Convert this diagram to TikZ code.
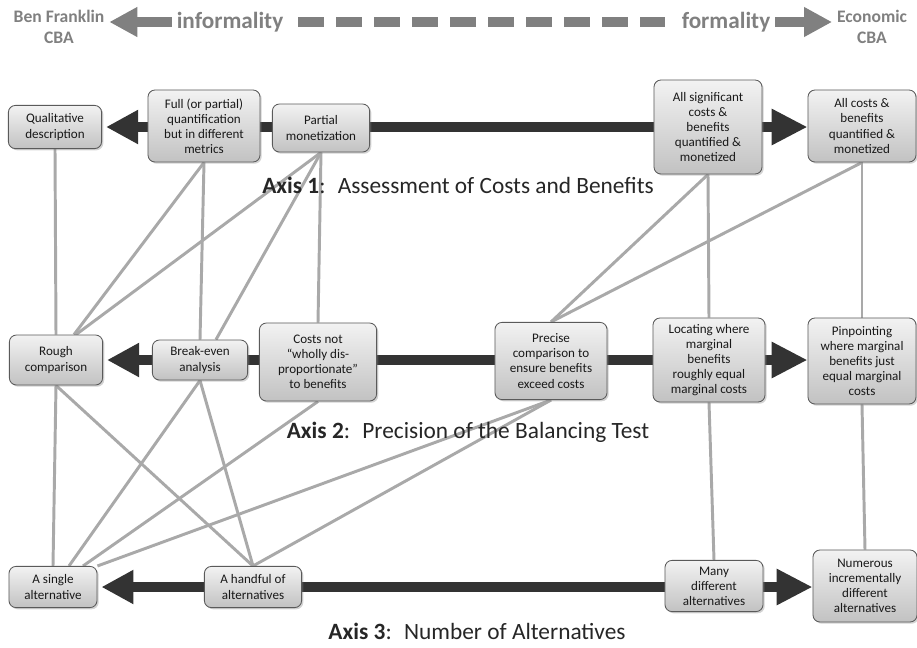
\documentclass[tikz,border=0pt]{standalone}
\usepackage{fontspec}
\setmainfont{Carlito}
\usetikzlibrary{arrows.meta,shadows,backgrounds}
\definecolor{hdrgray}{HTML}{808080}
\definecolor{axisdark}{HTML}{333333}
\definecolor{linkgray}{HTML}{A9A9A9}
\definecolor{boxline}{HTML}{5A5A5A}

\begin{document}
\begin{tikzpicture}[x=0.025cm, y=-0.025cm,
  box/.style={draw=boxline, line width=0.6pt, rounded corners=5pt,
    top color=gray!10, bottom color=gray!48,
    drop shadow={shadow xshift=1.2pt, shadow yshift=-1.2pt, opacity=0.35},
    align=center, inner sep=1pt, text=black!90,
    font=\fontsize{9.3}{10.7}\selectfont},
  link/.style={draw=linkgray, line width=2.1pt},
  axis/.style={draw=axisdark, line width=7pt, shorten <=1mm,
    {Triangle[length=8mm,width=8mm]}-{Triangle[length=9mm,width=8.5mm]}},
  axislabel/.style={text=black!85, font=\fontsize{16.6}{19}\selectfont},
  hdr/.style={text=hdrgray, align=center, font=\bfseries\fontsize{12.5}{14.5}\selectfont},
  hdrbig/.style={text=hdrgray, font=\bfseries\fontsize{16.5}{19}\selectfont},
  hdrarrow/.style={draw=hdrgray, line width=7pt, -{Triangle[length=7mm,width=7mm]}}]
  \useasboundingbox (0,0) rectangle (917,647);

  % header
  \node[hdr] (bf) at (59,27) {Ben Franklin\\CBA};
  \node[hdrbig] (infl) at (230,22) {informality};
  \node[hdrbig] (forml) at (726,22) {formality};
  \node[hdr] (econ) at (872,27) {Economic\\CBA};
  \draw[hdrarrow] (infl.west) -- (infl.west -| bf.east);
  \draw[hdrarrow] (forml.east) -- (forml.east -| econ.west);
  \draw[draw=hdrgray, line width=7pt, dash pattern=on 0.65cm off 0.3cm,
    shorten <=0.25cm, shorten >=0.3cm] (infl.east) -- (forml.west);

  % axis 1
  \node[box, minimum width=2.33cm, minimum height=1.08cm] (qual) at (55,127) {Qualitative\\description};
  \node[box, minimum width=2.8cm, minimum height=1.8cm] (full) at (204,126) {Full (or partial)\\quantification\\but in different\\metrics};
  \node[box, minimum width=2.43cm, minimum height=1.2cm] (partial) at (321,128) {Partial\\monetization};
  \node[box, minimum width=2.7cm, minimum height=2.35cm] (allsig) at (708,127) {All significant\\costs \&\\benefits\\quantified \&\\monetized};
  \node[box, minimum width=2.7cm, minimum height=1.8cm] (allcost) at (862,126) {All costs \&\\benefits\\quantified \&\\monetized};
  \node[axislabel] (ax1) at (458,185) {\textbf{Axis 1}:~ Assessment of Costs and Benefits};

  % axis 2
  \node[box, minimum width=2.33cm, minimum height=1.25cm] (rough) at (56,360) {Rough\\comparison};
  \node[box, minimum width=2.38cm, minimum height=1.0cm] (breakeven) at (200,360) {Break-even\\analysis};
  \node[box, minimum width=2.93cm, minimum height=1.95cm] (costsnot) at (318,362) {Costs not\\``wholly dis-\\proportionate''\\to benefits};
  \node[box, minimum width=2.8cm, minimum height=1.93cm] (precise) at (551,361) {Precise\\comparison to\\ensure benefits\\exceed costs};
  \node[box, minimum width=2.8cm, minimum height=2.1cm] (locating) at (709,360) {Locating where\\marginal\\benefits\\roughly equal\\marginal costs};
  \node[box, minimum width=2.7cm, minimum height=2.15cm] (pinpoint) at (862,361) {Pinpointing\\where marginal\\benefits just\\equal marginal\\costs};
  \node[axislabel] (ax2) at (468,432) {\textbf{Axis 2}:~ Precision of the Balancing Test};

  % axis 3
  \node[box, minimum width=2.2cm, minimum height=1.03cm] (single) at (53,587) {A single\\alternative};
  \node[box, minimum width=2.43cm, minimum height=1.03cm] (handful) at (253,587) {A handful of\\alternatives};
  \node[box, minimum width=2.45cm, minimum height=1.28cm] (many) at (714,586) {Many\\different\\alternatives};
  \node[box, minimum width=2.6cm, minimum height=1.8cm] (numerous) at (865,586) {Numerous\\incrementally\\different\\alternatives};
  \node[axislabel] (ax3) at (477,631) {\textbf{Axis 3}:~ Number of Alternatives};

  \begin{scope}[on background layer]
    \draw[axis] (qual.east) -- (qual.east -| allcost.west);
    \draw[axis] (rough.east) -- (rough.east -| pinpoint.west);
    \draw[axis] (single.east) -- (single.east -| numerous.west);
    % links between the axes
    \draw[link] (qual.south) -- (rough.north);
    \draw[link] (full.south) -- ([xshift=0.45cm]rough.north);
    \draw[link] (full.south) -- (breakeven.north);
    \draw[link] (partial.south) -- ([xshift=0.5cm]rough.north);
    \draw[link] (partial.south) -- ([xshift=0.4cm]breakeven.north);
    \draw[link] (partial.south) -- (costsnot.north);
    \draw[link] (allsig.south) -- (precise.north);
    \draw[link] (allsig.south) -- (locating.north);
    \draw[link] (allcost.south) -- (precise.north);
    \draw[link] (allcost.south) -- (pinpoint.north);
    \draw[link] (rough.south) -- (single.north);
    \draw[link] (rough.south) -- (handful.north);
    \draw[link] (breakeven.south) -- ([xshift=0.4cm]single.north);
    \draw[link] (breakeven.south) -- (handful.north);
    \draw[link] (costsnot.south) -- ([xshift=0.75cm]single.north);
    \draw[link] (precise.south) -- (single.north east);
    \draw[link] (precise.south) -- (handful.north);
    \draw[link] (locating.south) -- (many.north);
    \draw[link] (pinpoint.south) -- (numerous.north);
  \end{scope}
\end{tikzpicture}
\end{document}
